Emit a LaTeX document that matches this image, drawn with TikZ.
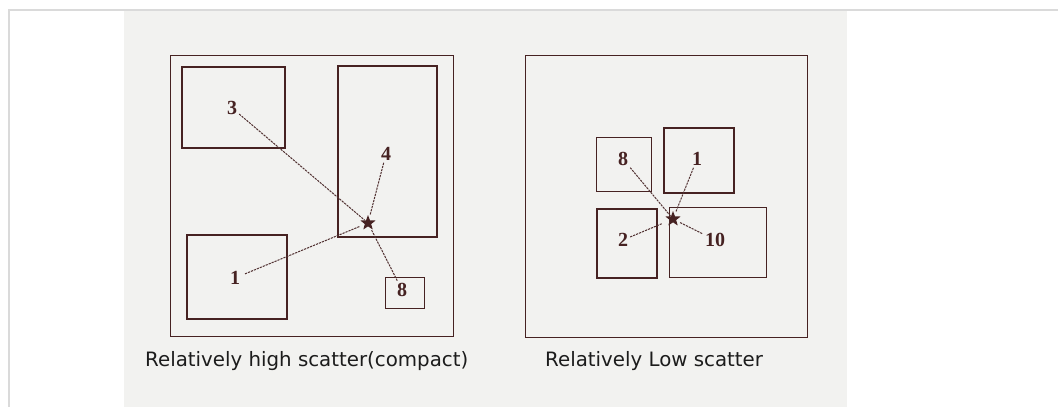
\documentclass[tikz,border=0pt]{standalone}
\usepackage{fontspec}
\usetikzlibrary{shapes.geometric}
\newfontfamily\capfont{DejaVu Sans}
\newfontfamily\numfont{Liberation Serif}
\definecolor{ink}{RGB}{70,34,34}
\definecolor{wire}{RGB}{80,48,48}
\definecolor{canvas}{RGB}{242,242,240}
\definecolor{frame}{RGB}{218,218,218}
\definecolor{captext}{RGB}{28,28,28}
\tikzset{
  region/.style={draw=ink, line width=1.5pt, anchor=north west, inner sep=0pt},
  num/.style={font=\numfont\bfseries\fontsize{20}{22}\selectfont, text=ink, inner sep=2pt},
  centroid/.style={star, star points=5, star point ratio=2.4, fill=ink, draw=none,
                   minimum size=16pt, inner sep=0pt},
  spoke/.style={draw=wire, line width=1pt, dash pattern=on 2.2pt off 1pt},
  caption/.style={font=\capfont\fontsize{19.8}{22}\selectfont, text=captext, anchor=base west, inner sep=0pt}
}
\begin{document}
\begin{tikzpicture}[x=1pt, y=-1pt]
\useasboundingbox (0,0) rectangle (1058,407);
\fill[white] (0,0) rectangle (1058,407);
% page frame and canvas sheet
\draw[frame, line width=2pt] (1058,10) -- (9,10) -- (9,407);
\fill[canvas] (124,11) rectangle (847,407);

% ---- left panel: widely spread parts ----
\node[region, minimum width=283pt, minimum height=281pt, line width=1.2pt] (boxL) at (170,55) {};
\node[region, minimum width=103pt, minimum height=81pt] (a3) at (181,66) {};
\node[region, minimum width=99pt, minimum height=171pt] (a4) at (337,65) {};
\node[region, minimum width=100pt, minimum height=84pt] (a1) at (186,234) {};
\node[region, minimum width=39pt, minimum height=31pt, line width=1.1pt] (a8) at (385,277) {};
\node[centroid] (sL) at (368,223) {};
\node[num] (l3) at (232,108) {3};
\node[num] (l4) at (386,154) {4};
\node[num] (l1) at (235,278) {1};
\node[num] (l8) at (402,290) {8};
\draw[spoke] (l3) -- (sL);
\draw[spoke, shorten >=3pt] (l4) -- (sL);
\draw[spoke, shorten <=3pt, shorten >=5pt] (l1) -- (sL);
\draw[spoke, shorten <=2pt] (sL) -- (l8);

% ---- right panel: tightly packed parts ----
\node[region, minimum width=282pt, minimum height=282pt, line width=1.2pt] (boxR) at (525,55) {};
\node[region, minimum width=55pt, minimum height=54pt, line width=1.1pt] (b8) at (596,137) {};
\node[region, minimum width=70pt, minimum height=65pt] (b1) at (663,127) {};
\node[region, minimum width=60pt, minimum height=69pt] (b2) at (596,208) {};
\node[region, minimum width=97pt, minimum height=70pt, line width=1.1pt] (b10) at (669,207) {};
\node[centroid] (sR) at (673,219) {};
\node[num] (m8) at (623,159) {8};
\node[num] (m1) at (697,159) {1};
\node[num] (m2) at (623,240) {2};
\node[num] (m10) at (715,240) {10};
\draw[spoke] (m8) -- (sR);
\draw[spoke, shorten >=3pt] (m1) -- (sR);
\draw[spoke, shorten >=8pt] (m2) -- (sR);
\draw[spoke, shorten <=4pt] (sR) -- (m10);

% captions
\node[caption] (capL) at (145,366) {Relatively high scatter(compact)};
\node[caption] (capR) at (545,366) {Relatively Low scatter};
\end{tikzpicture}
\end{document}
